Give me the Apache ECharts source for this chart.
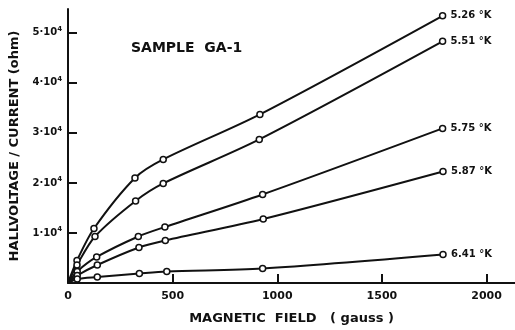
<!DOCTYPE html>
<html>
<head>
<meta charset="utf-8">
<script src="https://cdn.jsdelivr.net/npm/echarts@6/dist/echarts.min.js"></script>
<style>html,body{margin:0;padding:0;background:#fff;}#c{width:515px;height:330px;}</style>
</head>
<body>
<div id="c"></div>
<script>
const seriesNames = ['5.26 °K', '5.51 °K', '5.75 °K', '5.87 °K', '6.41 °K'];
const field526 = [0, 43, 124, 320, 455, 917, 1790];
const hall526  = [0, 4500, 10900, 21000, 24700, 33700, 53400];
const field551 = [0, 43, 129, 323, 455, 914, 1790];
const hall551  = [0, 3600, 9300, 16400, 19900, 28700, 48300];
const field575 = [0, 44, 137, 336, 463, 930, 1790];
const hall575  = [0, 2300, 5200, 9300, 11200, 17700, 30900];
const field587 = [0, 44, 140, 339, 465, 933, 1792];
const hall587  = [0, 1500, 3600, 7100, 8500, 12800, 22300];
const field641 = [0, 44, 140, 341, 472, 930, 1792];
const hall641  = [0, 800, 1200, 1900, 2300, 2900, 5700];
const xTicks = [0, 500, 1000, 1500, 2000];
const yTicks = [10000, 20000, 30000, 40000, 50000];

const fields = [field526, field551, field575, field587, field641];
const halls = [hall526, hall551, hall575, hall587, hall641];
const FONT = 'DejaVu Sans';

function pairs(xs, ys) {
  return xs.map((x, i) => {
    const p = { value: [x, ys[i]] };
    if (x === 0) p.symbol = 'none';
    return p;
  });
}

const chart = echarts.init(document.getElementById('c'), null, { renderer: 'canvas' });
chart.setOption({
  animation: false,
  backgroundColor: '#fff',
  title: {
    text: 'SAMPLE  GA-1',
    left: 126, top: 36,
    textStyle: { fontFamily: FONT, fontSize: 14, fontWeight: 'bold', color: '#111' }
  },
  grid: { left: 68, right: 0, top: 9, bottom: 39 },
  xAxis: {
    type: 'value', min: 0, max: 2136,
    name: 'MAGNETIC  FIELD   ( gauss )',
    nameLocation: 'middle', nameGap: 29,
    nameTextStyle: { fontFamily: FONT, fontSize: 13, fontWeight: 'bold', color: '#111' },
    axisLine: { lineStyle: { color: '#111', width: 2 } },
    axisTick: { inside: true, length: 9, lineStyle: { color: '#111', width: 2 },
      customValues: xTicks.slice(1) },
    axisLabel: { fontFamily: FONT, fontSize: 11, fontWeight: 'bold', color: '#111', margin: 8,
      customValues: xTicks, formatter: v => String(v) },
    splitLine: { show: false }
  },
  yAxis: {
    type: 'value', min: 0, max: 54760, interval: 10000,
    name: 'HALLVOLTAGE / CURRENT (ohm)',
    nameLocation: 'middle', nameGap: 47, nameRotate: 90,
    nameTextStyle: { fontFamily: FONT, fontSize: 13, fontWeight: 'bold', color: '#111' },
    axisLine: { show: true, lineStyle: { color: '#111', width: 2 } },
    axisTick: { inside: true, length: 9, lineStyle: { color: '#111', width: 2 },
      customValues: yTicks },
    axisLabel: {
      customValues: yTicks,
      margin: 6,
      formatter: v => '{a|' + (v / 10000) + '·10}{s|4}',
      rich: {
        a: { fontFamily: FONT, fontSize: 10, fontWeight: 'bold', color: '#111' },
        s: { fontFamily: FONT, fontSize: 7, fontWeight: 'bold', color: '#111', verticalAlign: 'bottom', padding: [0, 0, 7, 0] }
      }
    },
    splitLine: { show: false }
  },
  series: seriesNames.map((name, i) => ({
    name: name,
    type: 'line',
    smooth: 0.3,
    data: pairs(fields[i], halls[i]),
    symbol: 'circle',
    symbolSize: 6,
    itemStyle: { color: '#fff', borderColor: '#111', borderWidth: 1.5 },
    lineStyle: { color: '#111', width: 2 },
    z: 3,
    endLabel: {
      show: true,
      formatter: name,
      distance: 8,
      fontFamily: FONT, fontSize: 10, fontWeight: 'bold', color: '#111'
    }
  }))
});
</script>
</body>
</html>
